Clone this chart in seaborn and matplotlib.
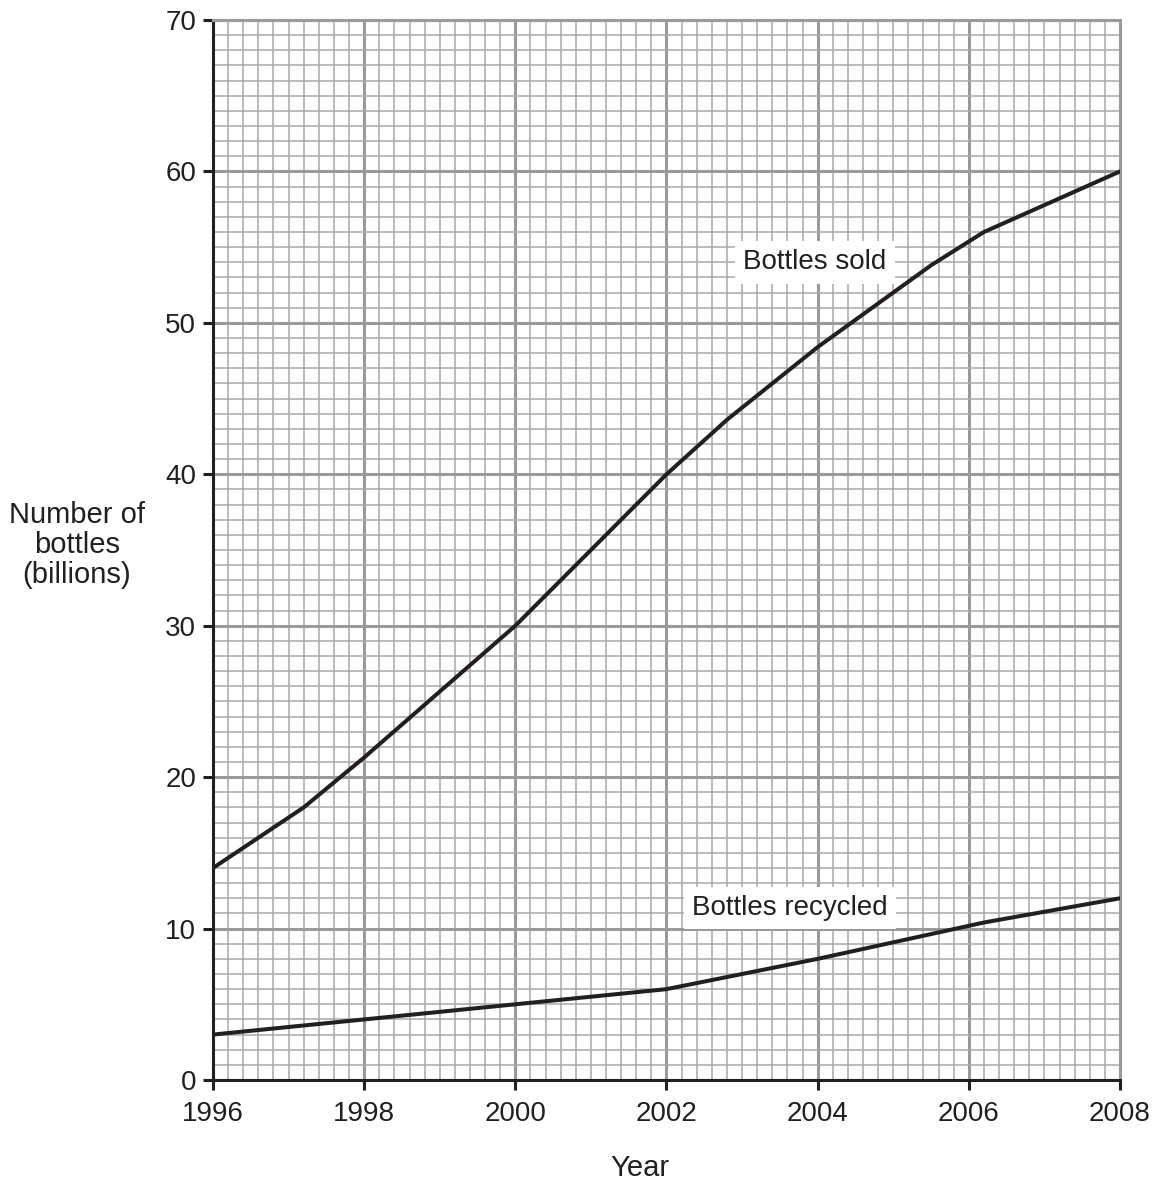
import numpy as np
import pandas as pd
import matplotlib
matplotlib.use("Agg")
import matplotlib.pyplot as plt
import seaborn as sns

# data (billions)
sold_years = [1996, 1997.2, 1998, 2000, 2002, 2002.8, 2004, 2005.5, 2006.2, 2008]
sold_vals = [14, 18, 21.3, 30, 40, 43.6, 48.4, 53.8, 56, 60]
recycled_years = [1996, 1998, 2000, 2002, 2004, 2006.2, 2008]
recycled_vals = [3, 4, 5, 6, 8, 10.4, 12]
x_ticks = [1996, 1998, 2000, 2002, 2004, 2006, 2008]
y_ticks = [0, 10, 20, 30, 40, 50, 60, 70]

sns.set_style("white")
plt.rcParams['font.family'] = ['Liberation Sans', 'DejaVu Sans']

fig = plt.figure(figsize=(11.61, 11.90), dpi=100)
ax = fig.add_axes([213/1161, 1 - 1080/1190, (1120-213)/1161, (1080-20)/1190])

df_sold = pd.DataFrame({'year': sold_years, 'n': sold_vals})
df_rec = pd.DataFrame({'year': recycled_years, 'n': recycled_vals})
sns.lineplot(data=df_sold, x='year', y='n', ax=ax, color='#231f20', lw=2.9,
             estimator=None, sort=False, zorder=3)
sns.lineplot(data=df_rec, x='year', y='n', ax=ax, color='#231f20', lw=2.9,
             estimator=None, sort=False, zorder=3)

ax.set_xlim(1996, 2008)
ax.set_ylim(0, 70)
ax.set_xticks(x_ticks)
ax.set_xticklabels([str(t) for t in x_ticks])
ax.set_yticks(y_ticks)
ax.set_yticklabels([str(t) for t in y_ticks])
ax.set_xticks(np.arange(1996, 2008.01, 0.2), minor=True)
ax.set_yticks(np.arange(0, 70.01, 1), minor=True)

ax.grid(which='minor', color='#a8a8a8', lw=1.1, zorder=0)
ax.grid(which='major', color='#9a9a9a', lw=2.2, zorder=0)
ax.set_axisbelow(True)

box = dict(facecolor='white', edgecolor='none', pad=6)
ax.text(2003.96, 54.0, "Bottles sold", fontsize=20, ha='center', va='center',
        color='#231f20', bbox=box, zorder=4)
ax.text(2003.63, 11.35, "Bottles recycled", fontsize=20, ha='center', va='center',
        color='#231f20', bbox=box, zorder=4)

ax.set_xlabel("")
ax.set_ylabel("")

for s in ['left', 'bottom']:
    ax.spines[s].set_color('#231f20')
    ax.spines[s].set_linewidth(2.2)
for s in ['top', 'right']:
    ax.spines[s].set_color('#9a9a9a')
    ax.spines[s].set_linewidth(2.2)

ax.tick_params(which='major', direction='out', length=7, width=2.2,
               color='#231f20', labelsize=20, labelcolor='#231f20')
ax.tick_params(axis='x', pad=8)
ax.tick_params(axis='y', pad=5)
ax.tick_params(which='minor', length=0)
ax.tick_params(top=False, right=False, left=True, bottom=True)

fig.text(77/1161, 1 - 545/1190, "Number of\nbottles\n(billions)", fontsize=21,
         ha='center', va='center', color='#231f20', linespacing=1.1)
fig.text(640/1161, 1 - 1168/1190, "Year", fontsize=21, ha='center', va='center',
         color='#231f20')

fig.savefig("out.png", dpi=100)
